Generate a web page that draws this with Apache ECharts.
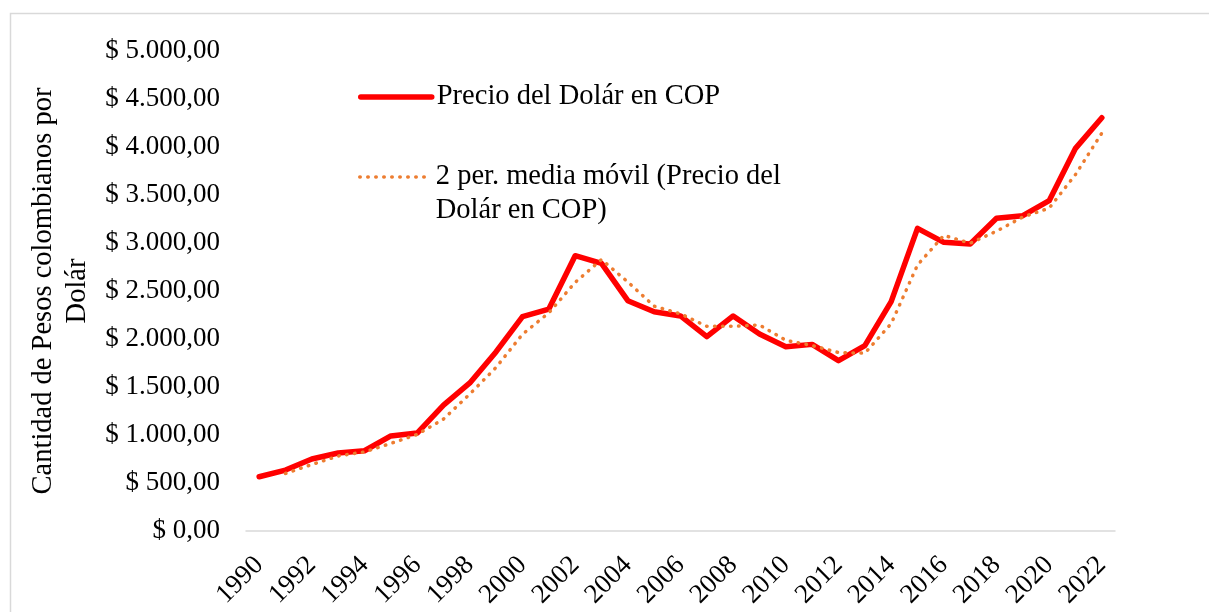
<!DOCTYPE html>
<html>
<head>
<meta charset="utf-8">
<script src="https://cdn.jsdelivr.net/npm/echarts@6/dist/echarts.min.js"></script>
<style>
  html, body { margin: 0; padding: 0; background: #ffffff; }
  #chart { width: 1209px; height: 612px; }
</style>
</head>
<body>
<div id="chart"></div>
<script>
const years = ['1990','1991','1992','1993','1994','1995','1996','1997','1998','1999','2000','2001','2002','2003','2004','2005','2006','2007','2008','2009','2010','2011','2012','2013','2014','2015','2016','2017','2018','2019','2020','2021','2022'];
const precioDolar = [565, 635, 750, 812, 836, 990, 1020, 1312, 1542, 1868, 2233, 2312, 2868, 2788, 2399, 2284, 2240, 2024, 2240, 2052, 1920, 1944, 1774, 1931, 2389, 3153, 3007, 2990, 3257, 3285, 3441, 3986, 4305];
const mediaMovil = [null, 600, 692, 781, 824, 913, 1005, 1166, 1427, 1705, 2050, 2272, 2590, 2828, 2594, 2342, 2262, 2132, 2132, 2146, 1986, 1932, 1859, 1852, 2160, 2771, 3080, 2998, 3123, 3271, 3363, 3713, 4145];
const yTicks = [0, 500, 1000, 1500, 2000, 2500, 3000, 3500, 4000, 4500, 5000];
const serieName1 = 'Precio del Dolár en COP';
const serieName2 = '2 per. media móvil (Precio del\nDolár en COP)';
const yAxisTitle = 'Cantidad de Pesos colombianos por\nDolár';

const FONT = '"Liberation Serif", "DejaVu Serif", serif';

function fmt(v) {
  const s = Math.round(v).toString().replace(/\B(?=(\d{3})+(?!\d))/g, '.');
  return '$ ' + s + ',00';
}

const legendText = { fontFamily: FONT, fontSize: 28.5, color: '#000000', lineHeight: 34 };

const chart = echarts.init(document.getElementById('chart'), null, { renderer: 'canvas' });
chart.setOption({
  backgroundColor: '#ffffff',
  animation: false,
  graphic: [{
    type: 'polyline',
    shape: { points: [[10.5, 612], [10.5, 13.5], [1209, 13.5]] },
    style: { stroke: '#D9D9D9', lineWidth: 1.5, fill: null }
  }],
  grid: { left: 246, right: 94, top: 51, bottom: 81, containLabel: false },
  legend: [{
    data: [serieName1],
    left: 358, top: 80, padding: 0,
    orient: 'vertical',
    itemWidth: 71, itemHeight: 14,
    itemStyle: { opacity: 0 },
    lineStyle: { width: 5.5, color: '#FF0000', cap: 'round' },
    textStyle: legendText,
    selectedMode: false
  }, {
    data: [serieName2],
    left: 358, top: 126, padding: 0,
    orient: 'vertical',
    itemWidth: 71, itemHeight: 14,
    itemStyle: { opacity: 0 },
    lineStyle: { width: 3.5, color: '#ED7D31', type: [0.5, 7.5], cap: 'round' },
    formatter: function (name) { return '\n' + name; },
    textStyle: legendText,
    selectedMode: false
  }],
  xAxis: {
    type: 'category',
    data: years,
    boundaryGap: true,
    axisLine: { show: true, lineStyle: { color: '#D9D9D9', width: 1.5 } },
    axisTick: { show: false },
    axisLabel: {
      interval: 1,
      rotate: 45,
      margin: 30,
      fontFamily: FONT, fontSize: 27, color: '#000000'
    },
    splitLine: { show: false }
  },
  yAxis: {
    type: 'value',
    min: yTicks[0],
    max: yTicks[yTicks.length - 1],
    interval: yTicks[1] - yTicks[0],
    name: yAxisTitle,
    nameLocation: 'middle',
    nameGap: 139,
    nameRotate: 90,
    nameTextStyle: { fontFamily: FONT, fontSize: 28.5, color: '#000000', lineHeight: 34, align: 'center' },
    axisLine: { show: false },
    axisTick: { show: false },
    splitLine: { show: false },
    axisLabel: {
      margin: 26,
      fontFamily: FONT, fontSize: 27, color: '#000000',
      formatter: fmt
    }
  },
  series: [{
    name: serieName1,
    type: 'line',
    data: precioDolar,
    symbol: 'none',
    lineStyle: { color: '#FF0000', width: 5.5, cap: 'round', join: 'round' },
    itemStyle: { color: '#FF0000' }
  }, {
    name: serieName2,
    type: 'line',
    data: mediaMovil,
    symbol: 'none',
    connectNulls: false,
    lineStyle: { color: '#ED7D31', width: 3.5, type: [0.5, 7.5], cap: 'round' },
    itemStyle: { color: '#ED7D31' }
  }]
});
</script>
</body>
</html>
